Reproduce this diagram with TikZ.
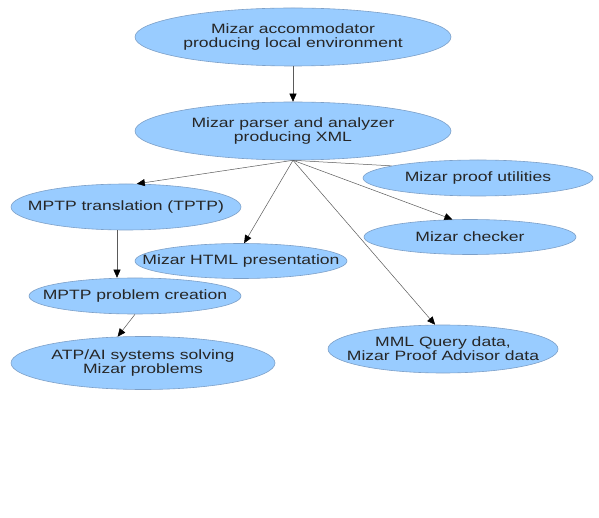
\documentclass[tikz,border=0pt]{standalone}
\usepackage{fontspec}
\setmainfont{Liberation Sans}[FakeStretch=1.3]
\usetikzlibrary{shapes.geometric,arrows.meta}
\definecolor{ellfill}{RGB}{153,204,255}
\definecolor{elldraw}{RGB}{125,160,200}
\definecolor{linecol}{RGB}{90,90,90}
\tikzset{
  ell/.style={ellipse, fill=ellfill, draw=elldraw, line width=0.6pt, inner sep=0pt},
  txt/.style={align=center, inner sep=0pt, text=black!85, font=\fontsize{13.5}{14}\selectfont},
  conn/.style={draw=linecol, line width=0.5pt},
  arr/.style={conn, -{Triangle[length=8pt,width=7pt,black]}}
}
\begin{document}
\begin{tikzpicture}[x=1pt,y=-1pt]
\useasboundingbox (0,0) rectangle (599,518);
\fill[white] (0,0) rectangle (599,518);
% ellipses
\node[ell, minimum width=316, minimum height=58] (acc) at (293,37) {};
\node[ell, minimum width=316, minimum height=58] (par) at (293,131) {};
\node[ell, minimum width=230, minimum height=46] (tr) at (126,207) {};
\node[ell, minimum width=212, minimum height=35] (html) at (241,261) {};
\node[ell, minimum width=212, minimum height=36] (pc) at (135,296) {};
\node[ell, minimum width=264, minimum height=53] (atp) at (143,363) {};
\node[ell, minimum width=230, minimum height=36] (pu) at (478,178) {};
\node[ell, minimum width=212, minimum height=35] (chk) at (470,237) {};
\node[ell, minimum width=230, minimum height=48] (mml) at (443,349) {};
% texts
\node[txt] (tacc) at (acc) {Mizar accommodator\\producing local environment};
\node[txt] (tpar) at (par) {Mizar parser and analyzer\\producing XML};
\node[txt] (ttr) at (tr) {MPTP translation (TPTP)};
\node[txt] (thtml) at (html) {Mizar HTML presentation};
\node[txt] (tpc) at (pc) {MPTP problem creation};
\node[txt] (tatp) at (atp) {ATP/AI systems solving\\Mizar problems};
\node[txt] (tpu) at (pu) {Mizar proof utilities};
\node[txt] (tchk) at (chk) {Mizar checker};
\node[txt] (tmml) at (mml) {MML Query data,\\Mizar Proof Advisor data};
% connectors
\draw[arr] (acc.south) -- (par.north);
\draw[arr] (par.south) -- (tr.65);
\draw[arr] (par.south) -- (html.80);
\draw[conn] (par.south) -- (pu.172);
\draw[arr] (par.south) -- (chk.135);
\draw[arr] (par.south) -- (mml.108);
\draw[arr] (tr.south -| 117,0) -- (pc.north -| 117,0);
\draw[arr] (pc.south) -- (atp.134);
\end{tikzpicture}
\end{document}
